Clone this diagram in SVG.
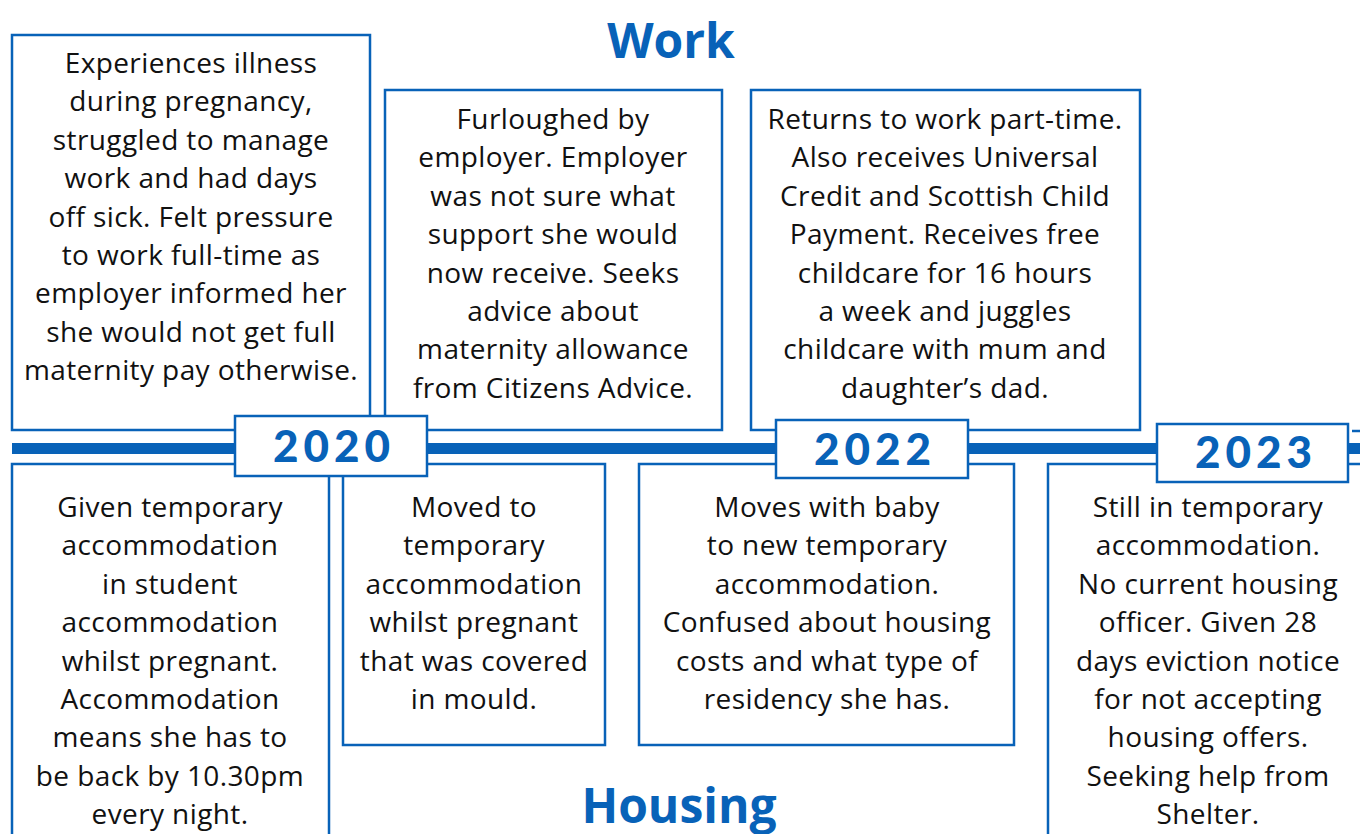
<svg xmlns="http://www.w3.org/2000/svg" width="1360" height="834" viewBox="0 0 1360 834">
<style>
.box{fill:#fff;stroke:#0862b8;stroke-width:2.5}
.t{font-family:"Open Sans","Noto Sans",sans-serif;font-size:28px;letter-spacing:0.4px;fill:#111;text-anchor:middle}
.yr{font-family:Lato,"Open Sans",sans-serif;font-weight:900;font-size:44px;fill:#0862b8;text-anchor:middle;letter-spacing:5px}
.hd{font-family:"Open Sans","Noto Sans",sans-serif;font-weight:700;font-size:48px;fill:#0862b8;text-anchor:middle}
</style>
<rect width="1360" height="834" fill="#fff"/>
<text class="hd" x="671" y="58">Work</text>
<text class="hd" x="679" y="823">Housing</text>
<g id="connectors">
<rect x="12" y="443" width="1348" height="11" fill="#0862b8"/>
</g>
<g id="w1"><rect class="box" x="12" y="35" width="358" height="395"/>
<text class="t" y="73"><tspan x="191">Experiences illness</tspan><tspan x="191" dy="38.4">during pregnancy,</tspan><tspan x="191" dy="38.4">struggled to manage</tspan><tspan x="191" dy="38.4">work and had days</tspan><tspan x="191" dy="38.4">off sick. Felt pressure</tspan><tspan x="191" dy="38.4">to work full-time as</tspan><tspan x="191" dy="38.4">employer informed her</tspan><tspan x="191" dy="38.4">she would not get full</tspan><tspan x="191" dy="38.4">maternity pay otherwise.</tspan></text></g>
<g id="w2"><rect class="box" x="385" y="90" width="337" height="340"/>
<text class="t" y="129"><tspan x="553">Furloughed by</tspan><tspan x="553" dy="38.4">employer. Employer</tspan><tspan x="553" dy="38.4">was not sure what</tspan><tspan x="553" dy="38.4">support she would</tspan><tspan x="553" dy="38.4">now receive. Seeks</tspan><tspan x="553" dy="38.4">advice about</tspan><tspan x="553" dy="38.4">maternity allowance</tspan><tspan x="553" dy="38.4">from Citizens Advice.</tspan></text></g>
<g id="w3"><rect class="box" x="751" y="90" width="389" height="340"/>
<text class="t" y="129"><tspan x="945">Returns to work part-time.</tspan><tspan x="945" dy="38.4">Also receives Universal</tspan><tspan x="945" dy="38.4">Credit and Scottish Child</tspan><tspan x="945" dy="38.4">Payment. Receives free</tspan><tspan x="945" dy="38.4">childcare for 16 hours</tspan><tspan x="945" dy="38.4">a week and juggles</tspan><tspan x="945" dy="38.4">childcare with mum and</tspan><tspan x="945" dy="38.4">daughter’s dad.</tspan></text></g>
<g id="h1"><rect class="box" x="12" y="464" width="317" height="380"/>
<text class="t" y="517"><tspan x="170">Given temporary</tspan><tspan x="170" dy="38.4">accommodation</tspan><tspan x="170" dy="38.4">in student</tspan><tspan x="170" dy="38.4">accommodation</tspan><tspan x="170" dy="38.4">whilst pregnant.</tspan><tspan x="170" dy="38.4">Accommodation</tspan><tspan x="170" dy="38.4">means she has to</tspan><tspan x="170" dy="38.4">be back by 10.30pm</tspan><tspan x="170" dy="38.4">every night.</tspan></text></g>
<g id="h2"><rect class="box" x="343" y="464" width="262" height="281"/>
<text class="t" y="517"><tspan x="474">Moved to</tspan><tspan x="474" dy="38.4">temporary</tspan><tspan x="474" dy="38.4">accommodation</tspan><tspan x="474" dy="38.4">whilst pregnant</tspan><tspan x="474" dy="38.4">that was covered</tspan><tspan x="474" dy="38.4">in mould.</tspan></text></g>
<g id="h3"><rect class="box" x="639" y="464" width="375" height="281"/>
<text class="t" y="517"><tspan x="827">Moves with baby</tspan><tspan x="827" dy="38.4">to new temporary</tspan><tspan x="827" dy="38.4">accommodation.</tspan><tspan x="827" dy="38.4">Confused about housing</tspan><tspan x="827" dy="38.4">costs and what type of</tspan><tspan x="827" dy="38.4">residency she has.</tspan></text></g>
<g id="h4"><rect class="box" x="1048" y="464" width="330" height="380"/>
<text class="t" y="517"><tspan x="1208">Still in temporary</tspan><tspan x="1208" dy="38.4">accommodation.</tspan><tspan x="1208" dy="38.4">No current housing</tspan><tspan x="1208" dy="38.4">officer. Given 28</tspan><tspan x="1208" dy="38.4">days eviction notice</tspan><tspan x="1208" dy="38.4">for not accepting</tspan><tspan x="1208" dy="38.4">housing offers.</tspan><tspan x="1208" dy="38.4">Seeking help from</tspan><tspan x="1208" dy="38.4">Shelter.</tspan></text></g>
<line x1="1352" y1="431" x2="1362" y2="431" stroke="#0862b8" stroke-width="2.5"/>
<g id="y2020"><rect class="box" x="235" y="416" width="192" height="60"/><text class="yr" x="334" y="462">2020</text></g>
<g id="y2022"><rect class="box" x="776" y="420" width="192" height="58"/><text class="yr" x="875" y="465">2022</text></g>
<g id="y2023"><rect class="box" x="1157" y="424" width="191" height="58"/><text class="yr" x="1256" y="468">2023</text></g>
</svg>
